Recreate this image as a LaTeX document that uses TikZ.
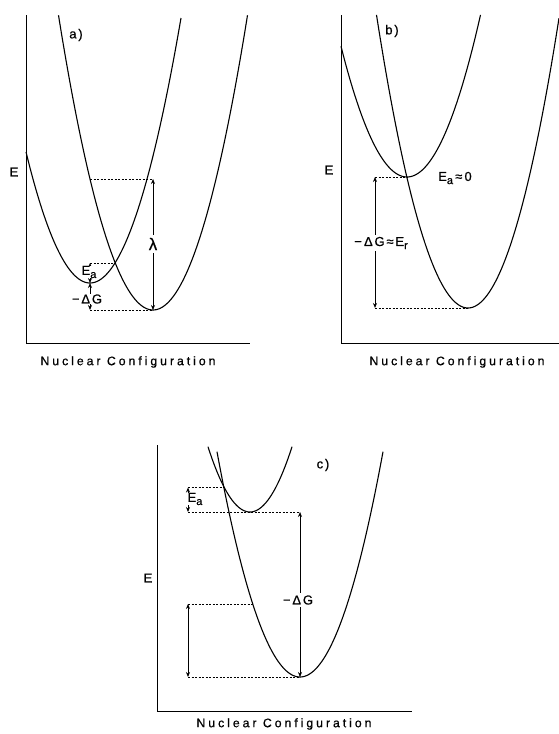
\documentclass[tikz,border=0pt]{standalone}
\usepackage{fontspec}
\setmainfont{Liberation Sans}
\newfontfamily\spaced[LetterSpace=24,FakeBold=0.6]{Liberation Sans}
\newfontfamily\lspaced[LetterSpace=14,FakeBold=0.6]{Liberation Sans}
\newcommand\lowsub[1]{\raisebox{-0.45ex}{\fontsize{11}{11}\selectfont #1}}
\usetikzlibrary{arrows.meta}
\begin{document}
\begin{tikzpicture}[x=1pt,y=-1pt,
  axis/.style={line width=1pt},
  curve/.style={line width=1.1pt},
  guide/.style={dash pattern=on 2.2pt off 1.3pt, line width=0.9pt},
  dim/.style={line width=0.8pt, {Stealth[length=5pt,width=4pt]}-{Stealth[length=5pt,width=4pt]}},
  lab/.style={font=\fontsize{13}{15}\selectfont\lspaced, inner sep=0.6pt},
  cut/.style={lab, fill=white},
  xlab/.style={font=\fontsize{12.3}{14}\selectfont\spaced, inner sep=0pt}]
\useasboundingbox (0,0) rectangle (559,734);

% ---------- panel a ----------
\draw[axis] (26,15) -- (26,343) -- (250,343);
\node[lab] (aE) at (14,172) {E};
\node[lab] (atag) at (76,35) {a)};
\draw[curve] plot[domain=26:181, samples=90, smooth] (\x,{283-0.032*(\x-90)^2});
\draw[curve] plot[domain=58.5:247.5, samples=90, smooth] (\x,{310-0.033*(\x-153)^2});
\coordinate (aRmin) at (90,283);
\coordinate (aPmin) at (153,310);
\coordinate (aX) at (115,263);
\coordinate (aTop) at (90,179);
\coordinate (aTopArr) at (153,179);
\coordinate (aEaTop) at (90,263);
\coordinate (aBot) at (90,310);
\draw[guide] (aTop) -- (aTopArr);
\draw[guide] (aEaTop) -- (aX);
\draw[guide] (aBot) -- (aPmin);
\draw[dim] (aPmin) -- (aTopArr);
\draw[dim] (aEaTop) -- (aRmin);
\draw[dim] (aRmin) -- (aBot);
\node[cut, font=\fontsize{17}{19}\selectfont\lspaced, inner sep=3pt] (alam) at (153,244) {λ};
\node[cut, inner sep=0.2pt] (aEa) at (89,272) {E\lowsub{a}};
\node[cut] (adG) at (87,299) {−ΔG};
\node[xlab] (axl) at (128,362) {Nuclear Configuration};

% ---------- panel b ----------
\draw[axis] (341,15) -- (341,343) -- (559,343);
\node[lab] (bE) at (329,170) {E};
\node[lab] (btag) at (392,31) {b)};
\draw[curve] plot[domain=341:480.5, samples=90, smooth] (\x,{177-0.03*(\x-407)^2});
\draw[curve] plot[domain=376.5:559, samples=90, smooth] (\x,{308-0.035*(\x-468)^2});
\coordinate (bRmin) at (407,177);
\coordinate (bPmin) at (468,308);
\coordinate (bTop) at (375,177);
\coordinate (bBot) at (375,308);
\draw[guide] (bTop) -- (bRmin);
\draw[guide] (bBot) -- (bPmin);
\draw[dim] (bBot) -- (bTop);
\node[cut, inner sep=2pt] (bdG) at (381,243) {−\,ΔG≈E\lowsub{r}};
\node[lab] (bEa) at (455,178) {E\lowsub{a}\,≈\,0};
\node[xlab] (bxl) at (457,362) {Nuclear Configuration};

% ---------- panel c ----------
\draw[axis] (157,445) -- (157,711) -- (412,711);
\node[lab] (cE) at (148,578) {E};
\node[lab] (ctag) at (323,465) {c)};
\draw[curve] plot[domain=208:292, samples=60, smooth] (\x,{512-0.037*(\x-250)^2});
\draw[curve] plot[domain=217:383, samples=90, smooth] (\x,{677-0.0327*(\x-300)^2});
\coordinate (cX) at (224,487.5);
\coordinate (cRmin) at (250,512);
\coordinate (cPmin) at (300,677);
\coordinate (cEaTop) at (188,487.5);
\coordinate (cEaBot) at (188,512);
\coordinate (cArrTop) at (300,512);
\coordinate (cMid) at (188,604);
\coordinate (cMidX) at (252.8,604);
\coordinate (cLow) at (188,677);
\draw[guide] (cEaTop) -- (cX);
\draw[guide] (cEaBot) -- (cArrTop);
\draw[guide] (cMid) -- (cMidX);
\draw[guide] (cLow) -- (cPmin);
\draw[dim] (cEaTop) -- (cEaBot);
\draw[dim] (cPmin) -- (cArrTop);
\draw[dim] (cMid) -- (cLow);
\node[cut, inner sep=0.2pt] (cEa) at (195,499) {E\lowsub{a}};
\node[cut, inner sep=2pt] (cdG) at (298,600) {−ΔG};
\node[xlab] (cxl) at (284,724) {Nuclear Configuration};
\end{tikzpicture}
\end{document}
